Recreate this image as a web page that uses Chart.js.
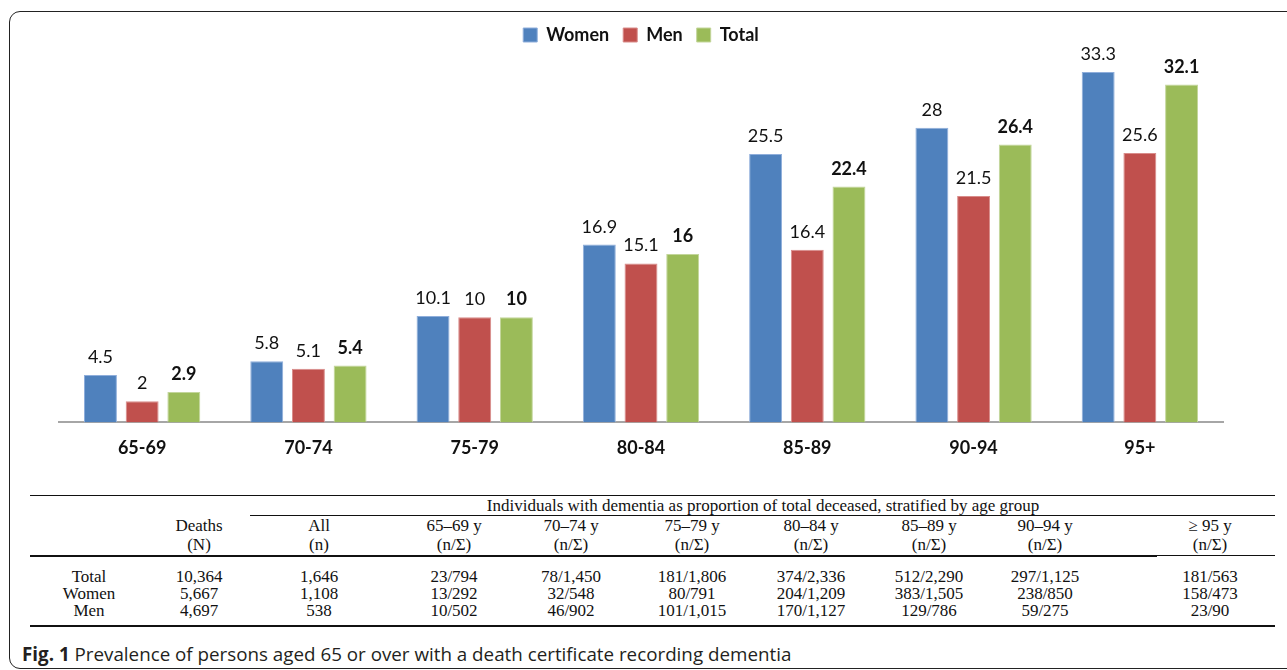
<!DOCTYPE html>
<html>
<head>
<meta charset="utf-8">
<script src="https://cdn.jsdelivr.net/npm/chart.js@4/dist/chart.umd.min.js"></script>
<style>
    body { margin: 0; background: #fff; width: 1287px; height: 670px; overflow: hidden; position: relative; }
    .frame { position: absolute; left: 9px; top: 11px; width: 1320px; height: 656px; border: 1.5px solid #222; border-radius: 11px; }
    .chart-box { position: absolute; left: 0; top: 0; width: 1287px; height: 485px; }
    .cell { position: absolute; transform: translateX(-50%); white-space: nowrap; font-family: "Liberation Serif", "Times New Roman", serif; font-size: 17px; line-height: 20px; color: #111; }
    .rule { position: absolute; background: #111; }
    .caption { position: absolute; left: 22px; top: 641px; font-family: "Open Sans", sans-serif; font-size: 18.8px; color: #231f20; white-space: nowrap; }
</style>
</head>
<body>
<div class="frame"></div>
<div class="chart-box"><canvas id="graph"></canvas></div>
<div id="table"></div>
<div class="caption"><b>Fig. 1</b> Prevalence of persons aged 65 or over with a death certificate recording dementia</div>

<script>
// chart data
const ageGroups = ['65-69', '70-74', '75-79', '80-84', '85-89', '90-94', '95+']
const women = [4.5, 5.8, 10.1, 16.9, 25.5, 28, 33.3]
const men = [2, 5.1, 10, 15.1, 16.4, 21.5, 25.6]
const total = [2.9, 5.4, 10, 16, 22.4, 26.4, 32.1]

// table data
const spanHead = 'Individuals with dementia as proportion of total deceased, stratified by age group'
const colHeads = ['', 'Deaths', 'All', '65–69 y', '70–74 y', '75–79 y', '80–84 y', '85–89 y', '90–94 y', '≥ 95 y']
const colSubs = ['', '(N)', '(n)', '(n/Σ)', '(n/Σ)', '(n/Σ)', '(n/Σ)', '(n/Σ)', '(n/Σ)', '(n/Σ)']
const rowNames = ['Total', 'Women', 'Men']
const deaths = ['10,364', '5,667', '4,697']
const allDementia = ['1,646', '1,108', '538']
const totalByAge = ['23/794', '78/1,450', '181/1,806', '374/2,336', '512/2,290', '297/1,125', '181/563']
const womenByAge = ['13/292', '32/548', '80/791', '204/1,209', '383/1,505', '238/850', '158/473']
const menByAge = ['10/502', '46/902', '101/1,015', '170/1,127', '129/786', '59/275', '23/90']

const labelFont = '"Lato", "Open Sans", sans-serif'

// value labels on top of the bars
const barLabels = {
    id: 'barLabels',
    afterDatasetsDraw(chart) {
        const ctx = chart.ctx
        ctx.save()
        ctx.textAlign = 'center'
        ctx.textBaseline = 'alphabetic'
        ctx.fillStyle = '#111'
        chart.data.datasets.forEach((ds, i) => {
            const meta = chart.getDatasetMeta(i)
            ctx.font = (ds.label == 'Total' ? 'bold ' : '') + '18px ' + labelFont
            meta.data.forEach((bar, j) => {
                ctx.fillText(String(ds.data[j]), bar.x, bar.y - 12)
            })
        })
        ctx.restore()
    }
}

let graph = document.getElementById('graph').getContext('2d')

new Chart(graph, {
    type: 'bar',
    data: {
        labels: ageGroups,
        datasets: [
            {
                label: 'Women',
                data: women,
                backgroundColor: '#4F81BD',
                borderColor: '#8FAEDB',
                borderWidth: 1
            },
            {
                label: 'Men',
                data: men,
                backgroundColor: '#C0504D',
                borderColor: '#D98C8A',
                borderWidth: 1
            },
            {
                label: 'Total',
                data: total,
                backgroundColor: '#9BBB59',
                borderColor: '#C3D69B',
                borderWidth: 1
            }
        ]
    },
    options: {
        responsive: true,
        maintainAspectRatio: false,
        animation: false,
        categoryPercentage: 0.752,
        barPercentage: 0.79,
        layout: {
            padding: { top: 12, left: 59, right: 64, bottom: 11 }
        },
        plugins: {
            legend: {
                position: 'top',
                labels: {
                    boxWidth: 14,
                    boxHeight: 14,
                    padding: 14,
                    color: '#111',
                    font: { family: labelFont, size: 18, weight: 'bold' }
                }
            },
            tooltip: { enabled: false }
        },
        scales: {
            x: {
                grid: { display: false, drawTicks: false },
                border: { display: true, color: '#A6A6A6', width: 2 },
                ticks: {
                    padding: 15,
                    color: '#111',
                    font: { family: labelFont, size: 18, weight: 'bold' }
                }
            },
            y: {
                display: false,
                min: 0,
                max: 35
            }
        }
    },
    plugins: [barLabels]
})

// table under the chart
const table = document.getElementById('table')
const colX = [89, 199, 319, 454, 571, 692, 811, 929, 1045, 1210]

function cell(text, x, y) {
    let d = document.createElement('div')
    d.className = 'cell'
    d.textContent = text
    d.style.left = x + 'px'
    d.style.top = (y - 10) + 'px'
    table.appendChild(d)
}

function rule(x1, x2, y, h) {
    let d = document.createElement('div')
    d.className = 'rule'
    d.style.left = x1 + 'px'
    d.style.width = (x2 - x1) + 'px'
    d.style.top = y + 'px'
    d.style.height = h + 'px'
    table.appendChild(d)
}

rule(30, 1275, 495, 1)
rule(250, 1275, 515, 1)
rule(30, 1157, 555, 2)
rule(1157, 1275, 555, 1)
rule(30, 1275, 625, 1.5)

cell(spanHead, 763, 506)
colHeads.forEach((h, i) => { if (h) cell(h, colX[i], 526) })
colSubs.forEach((h, i) => { if (h) cell(h, colX[i], 545) })

const rows = [totalByAge, womenByAge, menByAge]
const rowY = [577, 594, 611]
rowNames.forEach((name, r) => {
    cell(name, colX[0], rowY[r])
    cell(deaths[r], colX[1], rowY[r])
    cell(allDementia[r], colX[2], rowY[r])
    rows[r].forEach((v, k) => cell(v, colX[k + 3], rowY[r]))
})
</script>
</body>
</html>
